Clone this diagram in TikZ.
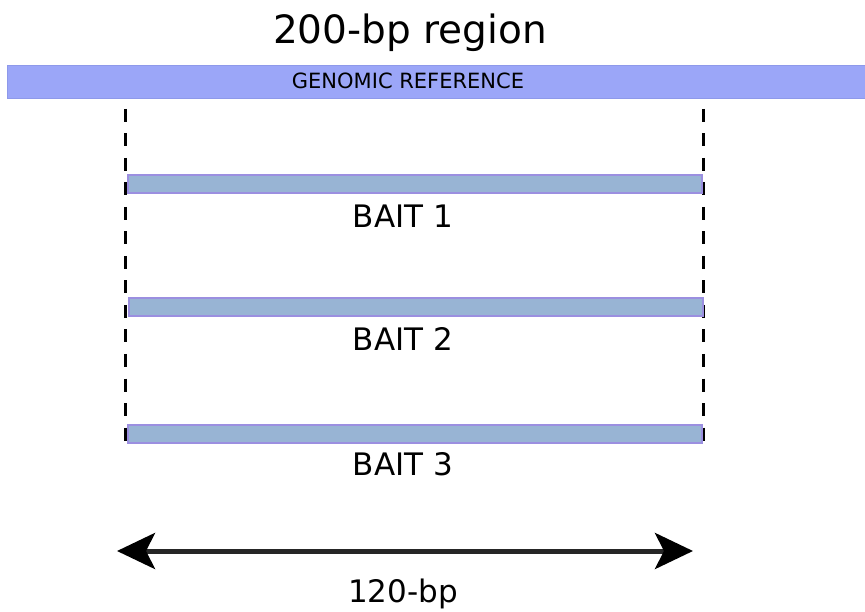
\documentclass[tikz,border=0pt]{standalone}
\usepackage{fontspec}
\setmainfont{DejaVu Sans}
\usepackage{tikz}
\usetikzlibrary{arrows.meta,positioning}
\usepackage{xcolor}
\definecolor{refblue}{HTML}{9BA6F8}
\definecolor{refedge}{HTML}{8E99EA}
\definecolor{baitfill}{HTML}{98B4D4}
\definecolor{baitedge}{HTML}{9B8FE0}

\begin{document}
\begin{tikzpicture}[
    x=1pt, y=-1pt,
    lbl/.style={font=\fontsize{31}{36}\selectfont, anchor=base, inner sep=0pt},
    baitbar/.style={fill=baitfill, draw=baitedge, line width=2pt,
      minimum width=574pt, minimum height=18pt, inner sep=0pt},
    guide/.style={line width=3pt, dash pattern=on 13pt off 11.5pt},
  ]
  \useasboundingbox (0,0) rectangle (865,612);

  % Title and reference
  \node[anchor=base, inner sep=0pt, font=\fontsize{39}{44}\selectfont]
    (title) at (410,44) {200-bp region};
  \node[fill=refblue, draw=refedge, line width=1pt, minimum width=858pt,
    minimum height=33pt, inner sep=0pt] (ref) at (436,82.5) {};
  \node[anchor=base, inner sep=0pt, font=\fontsize{21}{24}\selectfont]
    (reflbl) at (408,89) {GENOMIC REFERENCE};

  % Region borders
  \coordinate (lt) at (125,109);
  \coordinate (lb) at (125,441);
  \coordinate (rt) at (703,109);
  \coordinate (rb) at (703,441);
  \draw[guide] (lt) -- (lb);
  \draw[guide] (rt) -- (rb);

  % Baits
  \node[baitbar] (bait1) at (415,184.5) {};
  \node[lbl] (bait1lbl) at (403,228) {BAIT 1};
  \node[baitbar] (bait2) at (416,307.5) {};
  \node[lbl] (bait2lbl) at (403,351) {BAIT 2};
  \node[baitbar] (bait3) at (414.5,433.5) {};
  \node[lbl] (bait3lbl) at (403,475) {BAIT 3};

  % Bait length
  \coordinate (al) at (117,551);
  \coordinate (ar) at (693,551);
  \draw[black!85, line width=5pt,
    {Stealth[length=38pt, width=36pt, inset=9pt, black]}-{Stealth[length=38pt, width=36pt, inset=9pt, black]}]
    (al) -- (ar);
  \node[lbl] (len) at (403,602) {120-bp};

\end{tikzpicture}
\end{document}
